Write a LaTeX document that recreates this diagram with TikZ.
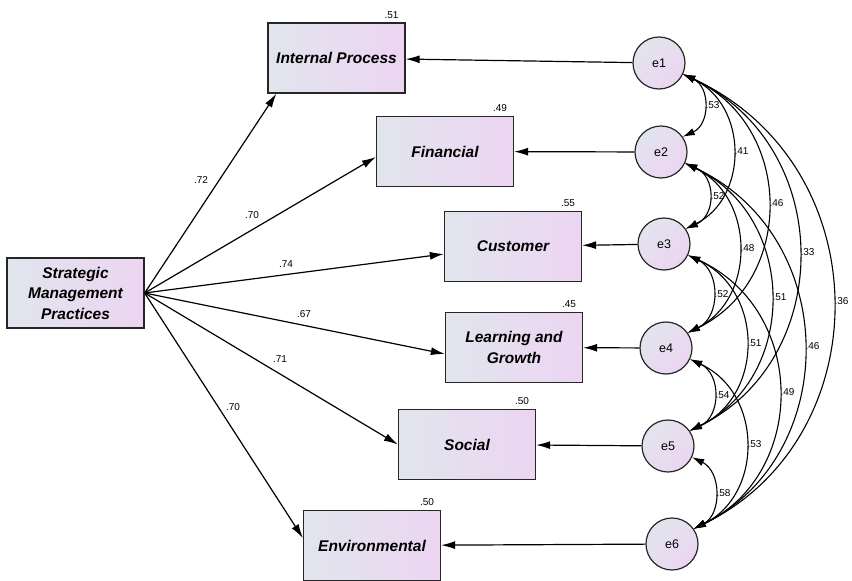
\documentclass[tikz,border=0pt]{standalone}
\usepackage{fontspec}
\setmainfont{Liberation Sans}
\usetikzlibrary{arrows.meta}
\definecolor{shadeL}{RGB}{225,229,237}
\definecolor{shadeR}{RGB}{236,213,242}
\tikzset{
  obsbox/.style={draw=black!85, line width=1.3pt, left color=shadeL, right color=shadeR,
    minimum width=137pt, minimum height=70pt, align=center, inner sep=2pt,
    font=\fontsize{15.5}{20.5}\selectfont\bfseries\itshape},
  errc/.style={circle, draw=black!85, line width=1.2pt, top color=shadeL, bottom color=shadeR,
    shading angle=45, minimum size=52pt, inner sep=0pt, font=\fontsize{12.5}{14}\selectfont},
  loadarr/.style={-{Latex[length=14pt,width=8pt]}, line width=1.2pt},
  corr/.style={{Latex[length=12pt,width=7.5pt]}-{Latex[length=12pt,width=7.5pt]}, line width=1.1pt},
  num/.style={font=\fontsize{10}{12}\selectfont, inner sep=1pt},
  rsq/.style={num, anchor=south east},
  clab/.style={num, midway, anchor=west, inner sep=1.5pt},
}
\begin{document}
\begin{tikzpicture}[x=1pt, y=-1pt]
  \fill[white] (0,0) rectangle (852,581);
  \useasboundingbox (0,0) rectangle (852,581);

  % exogenous construct and its six dimensions
  \node[obsbox] (smp) at (75.5,293) {Strategic\\Management\\Practices};
  \node[obsbox] (ip)  at (336.5,58)  {Internal Process};
  \node[obsbox] (fin) at (445,151.5) {Financial};
  \node[obsbox] (cu)  at (513,246.5) {Customer};
  \node[obsbox] (lg)  at (514,347.5) {Learning and\\Growth};
  \node[obsbox] (soc) at (467,444.5) {Social};
  \node[obsbox] (env) at (372,545.5) {Environmental};

  % error terms
  \node[errc] (e1) at (659,63)  {e1};
  \node[errc] (e2) at (661,152) {e2};
  \node[errc] (e3) at (664,244) {e3};
  \node[errc] (e4) at (666,348) {e4};
  \node[errc] (e5) at (668,446) {e5};
  \node[errc] (e6) at (672,544) {e6};

  % standardized loadings
  \draw[loadarr] (smp.east) -- ([xshift=9pt]ip.south west);
  \draw[loadarr] (smp.east) -- ([yshift=-5.5pt]fin.west);
  \draw[loadarr] (smp.east) -- ([yshift=-7.5pt]cu.west);
  \draw[loadarr] (smp.east) -- ([yshift=-6.5pt]lg.west);
  \draw[loadarr] (smp.east) -- (soc.west);
  \draw[loadarr] (smp.east) -- ([yshift=7.5pt]env.west);

  \node[num] (l1) at (201,180) {.72};
  \node[num] (l2) at (252,215) {.70};
  \node[num] (l3) at (286,264) {.74};
  \node[num] (l4) at (304,314) {.67};
  \node[num] (l5) at (280,359) {.71};
  \node[num] (l6) at (233,407) {.70};

  % squared multiple correlations
  \node[rsq] (r1) at ([xshift=-6pt,yshift=3pt]ip.north east)  {.51};
  \node[rsq] (r2) at ([xshift=-6pt,yshift=3pt]fin.north east) {.49};
  \node[rsq] (r3) at ([xshift=-6pt,yshift=3pt]cu.north east)  {.55};
  \node[rsq] (r4) at ([xshift=-6pt,yshift=3pt]lg.north east)  {.45};
  \node[rsq] (r5) at ([xshift=-6pt,yshift=3pt]soc.north east) {.50};
  \node[rsq] (r6) at ([xshift=-6pt,yshift=3pt]env.north east) {.50};

  % residual paths
  \draw[loadarr] (e1) -- (ip);
  \draw[loadarr] (e2) -- (fin);
  \draw[loadarr] (e3) -- (cu);
  \draw[loadarr] (e4) -- (lg);
  \draw[loadarr] (e5) -- (soc);
  \draw[loadarr] (e6) -- (env);

  % error covariances
  \draw[corr] (e1.-25) .. controls +(27.3,12.6)  and +(27.6,-12.6)  .. (e2.35) node[clab] {.53};
  \draw[corr] (e1.-25) .. controls +(65.4,31.0)  and +(62.7,-31.0)  .. (e3.35) node[clab] {.41};
  \draw[corr] (e1.-25) .. controls +(111.8,51.8) and +(107.1,-51.8) .. (e4.35) node[clab] {.46};
  \draw[corr] (e1.-25) .. controls +(152.7,71.4) and +(146.0,-71.4) .. (e5.35) node[clab] {.33};
  \draw[corr] (e1.-25) .. controls +(197.4,91.0) and +(186.7,-91.0) .. (e6.35) node[clab] {.36};
  \draw[corr] (e2.-25) .. controls +(31.1,13.2)  and +(30.4,-13.2)  .. (e3.35) node[clab] {.52};
  \draw[corr] (e2.-25) .. controls +(70.7,34.0)  and +(68.0,-34.0)  .. (e4.35) node[clab] {.48};
  \draw[corr] (e2.-25) .. controls +(113.1,53.6) and +(108.4,-53.6) .. (e5.35) node[clab] {.51};
  \draw[corr] (e2.-25) .. controls +(156.5,73.2) and +(147.8,-73.2) .. (e6.35) node[clab] {.46};
  \draw[corr] (e3.-25) .. controls +(32.5,15.6)  and +(32.8,-15.6)  .. (e4.35) node[clab] {.52};
  \draw[corr] (e3.-25) .. controls +(76.3,35.2)  and +(74.6,-35.2)  .. (e5.35) node[clab] {.51};
  \draw[corr] (e3.-25) .. controls +(119.6,54.8) and +(113.9,-54.8) .. (e6.35) node[clab] {.49};
  \draw[corr] (e4.-25) .. controls +(31.2,14.4)  and +(31.5,-14.4)  .. (e5.35) node[clab] {.54};
  \draw[corr] (e4.-25) .. controls +(73.2,34.0)  and +(69.5,-34.0)  .. (e6.35) node[clab] {.53};
  \draw[corr] (e5.-25) .. controls +(29.6,14.4)  and +(27.9,-14.4)  .. (e6.35) node[clab] {.58};
\end{tikzpicture}
\end{document}
